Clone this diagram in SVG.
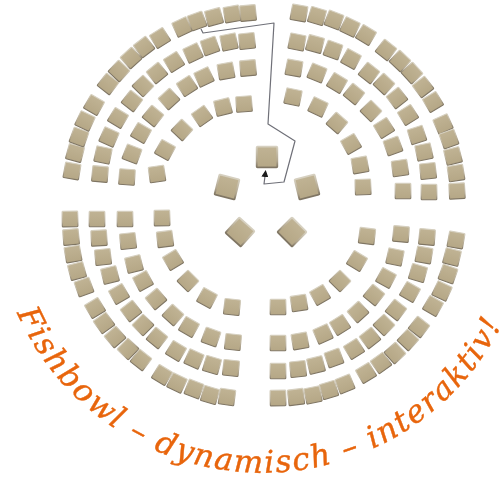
<svg xmlns="http://www.w3.org/2000/svg" xmlns:xlink="http://www.w3.org/1999/xlink" width="502" height="478" viewBox="0 0 502 478">
<style>
.line{fill:none;stroke:#6f7078;stroke-width:1.2;stroke-linejoin:round}
.title{font-family:"DejaVu Serif","Liberation Serif",serif;font-style:italic;font-size:31px;fill:#e8650c;stroke:#e8650c;stroke-width:0.4}
</style>
<defs>
<linearGradient id="f" x1="0" y1="0" x2="0" y2="1"><stop offset="0" stop-color="#c0b394"/><stop offset="1" stop-color="#b5a786"/></linearGradient>
<linearGradient id="e" x1="0" y1="0" x2="0" y2="1"><stop offset="0" stop-color="#d6d0c0"/><stop offset="0.7" stop-color="#b0a58e"/><stop offset="1" stop-color="#7f7563"/></linearGradient>
<filter id="b" x="-2%" y="-2%" width="104%" height="104%"><feGaussianBlur stdDeviation="0.4"/></filter>
<g id="c"><rect x="-7.8" y="-7.8" width="15.6" height="15.6" rx="0.8" fill="url(#f)" stroke="url(#e)" stroke-width="1.1"/></g>
<g id="k"><rect x="-10.3" y="-10.3" width="20.6" height="20.6" rx="0.8" fill="url(#f)" stroke="url(#e)" stroke-width="1.8"/></g>
<marker id="a" markerWidth="7" markerHeight="7" refX="1" refY="3.5" orient="auto" markerUnits="userSpaceOnUse"><path d="M0,0L7,3.5L0,7Z" fill="#1a1a1a"/></marker>
</defs>
<g filter="url(#b)">
<g id="seats-upper-left">
<use href="#c" transform="translate(72 171) rotate(10)"/><use href="#c" transform="translate(75 153) rotate(15)"/><use href="#c" transform="translate(79 137) rotate(20)"/><use href="#c" transform="translate(85 121) rotate(25)"/><use href="#c" transform="translate(94 105) rotate(30)"/>
<use href="#c" transform="translate(108 84) rotate(38)"/><use href="#c" transform="translate(119 71) rotate(43)"/><use href="#c" transform="translate(131 58) rotate(-42)"/><use href="#c" transform="translate(144 47) rotate(-37)"/><use href="#c" transform="translate(160 38) rotate(-32)"/>
<use href="#c" transform="translate(182 27) rotate(-25)"/><use href="#c" transform="translate(197 21) rotate(-20)"/><use href="#c" transform="translate(214 17) rotate(-15)"/><use href="#c" transform="translate(232 14) rotate(-10)"/><use href="#c" transform="translate(248 13) rotate(-5)"/>
<use href="#c" transform="translate(100 174) rotate(5)"/><use href="#c" transform="translate(103 155) rotate(12)"/><use href="#c" transform="translate(109 137) rotate(24)"/><use href="#c" transform="translate(118 118) rotate(31)"/><use href="#c" transform="translate(132 101) rotate(38)"/><use href="#c" transform="translate(143 86) rotate(45)"/><use href="#c" transform="translate(157 73) rotate(-39)"/><use href="#c" transform="translate(174 62) rotate(-32)"/><use href="#c" transform="translate(193 53) rotate(-25)"/><use href="#c" transform="translate(210 46) rotate(-19)"/><use href="#c" transform="translate(229 42) rotate(-12)"/><use href="#c" transform="translate(247 41) rotate(-6)"/>
<use href="#c" transform="translate(127 177) rotate(4)"/><use href="#c" transform="translate(132 154) rotate(21)"/><use href="#c" transform="translate(141 133) rotate(30)"/><use href="#c" transform="translate(153 116) rotate(39)"/><use href="#c" transform="translate(169 99) rotate(-42)"/><use href="#c" transform="translate(187 86) rotate(-33)"/><use href="#c" transform="translate(204 77) rotate(-25)"/><use href="#c" transform="translate(226 71) rotate(-10)"/><use href="#c" transform="translate(248 68) rotate(-5)"/>
<use href="#c" transform="translate(157 174) rotate(-8)"/><use href="#c" transform="translate(165 150) rotate(29)"/><use href="#c" transform="translate(182 130) rotate(43)"/><use href="#c" transform="translate(202 116) rotate(-35)"/><use href="#c" transform="translate(223 107) rotate(-14)"/><use href="#c" transform="translate(244 104) rotate(-4)"/>
</g>
<g id="seats-upper-right">
<use href="#c" transform="translate(299 13) rotate(10)"/><use href="#c" transform="translate(317 16) rotate(16)"/><use href="#c" transform="translate(334 20) rotate(21)"/><use href="#c" transform="translate(350 27) rotate(26)"/><use href="#c" transform="translate(366 35) rotate(31)"/>
<use href="#c" transform="translate(386 50) rotate(38)"/><use href="#c" transform="translate(400 61) rotate(43)"/><use href="#c" transform="translate(412 73) rotate(48)"/><use href="#c" transform="translate(423 87) rotate(-37)"/><use href="#c" transform="translate(433 102) rotate(-31)"/>
<use href="#c" transform="translate(443 124) rotate(-24)"/><use href="#c" transform="translate(449 139) rotate(-20)"/><use href="#c" transform="translate(453 156) rotate(-14)"/><use href="#c" transform="translate(456 173) rotate(-9)"/><use href="#c" transform="translate(457 191) rotate(-3)"/>
<use href="#c" transform="translate(297 42) rotate(11)"/><use href="#c" transform="translate(315 44) rotate(15)"/><use href="#c" transform="translate(333 50) rotate(20)"/><use href="#c" transform="translate(351 59) rotate(28)"/><use href="#c" transform="translate(369 73) rotate(38)"/><use href="#c" transform="translate(384 84) rotate(43)"/><use href="#c" transform="translate(397 98) rotate(-38)"/><use href="#c" transform="translate(408 115) rotate(-32)"/><use href="#c" transform="translate(417 135) rotate(-18)"/><use href="#c" transform="translate(424 152) rotate(-12)"/><use href="#c" transform="translate(428 171) rotate(-6)"/><use href="#c" transform="translate(429 192) rotate(0)"/>
<use href="#c" transform="translate(294 68) rotate(10)"/><use href="#c" transform="translate(317 73) rotate(22)"/><use href="#c" transform="translate(337 83) rotate(31)"/><use href="#c" transform="translate(354 94) rotate(39)"/><use href="#c" transform="translate(371 111) rotate(45)"/><use href="#c" transform="translate(384 128) rotate(-32)"/><use href="#c" transform="translate(393 146) rotate(-20)"/><use href="#c" transform="translate(400 168) rotate(-8)"/><use href="#c" transform="translate(403 191) rotate(0)"/>
<use href="#c" transform="translate(293 97) rotate(12)"/><use href="#c" transform="translate(318 107) rotate(25)"/><use href="#c" transform="translate(337 123) rotate(41)"/><use href="#c" transform="translate(351 144) rotate(-30)"/><use href="#c" transform="translate(360 165) rotate(-10)"/><use href="#c" transform="translate(363 187) rotate(-2)"/>
</g>
<g id="seats-lower-left">
<use href="#c" transform="translate(70 219) rotate(-1)"/><use href="#c" transform="translate(71 237) rotate(-5)"/><use href="#c" transform="translate(73 254) rotate(-10)"/><use href="#c" transform="translate(77 271) rotate(-15)"/><use href="#c" transform="translate(84 287) rotate(-20)"/>
<use href="#c" transform="translate(95 308) rotate(-31)"/><use href="#c" transform="translate(104 323) rotate(-36)"/><use href="#c" transform="translate(115 337) rotate(-41)"/><use href="#c" transform="translate(128 349) rotate(-46)"/><use href="#c" transform="translate(141 360) rotate(38)"/>
<use href="#c" transform="translate(162 375) rotate(31)"/><use href="#c" transform="translate(177 383) rotate(26)"/><use href="#c" transform="translate(194 389) rotate(21)"/><use href="#c" transform="translate(210 395) rotate(16)"/><use href="#c" transform="translate(227 397) rotate(8)"/>
<use href="#c" transform="translate(97 219) rotate(0)"/><use href="#c" transform="translate(99 238) rotate(-3)"/><use href="#c" transform="translate(103 257) rotate(-6)"/><use href="#c" transform="translate(110 275) rotate(-14)"/><use href="#c" transform="translate(119 294) rotate(-30)"/><use href="#c" transform="translate(131 311) rotate(-38)"/><use href="#c" transform="translate(143 325) rotate(-45)"/><use href="#c" transform="translate(157 338) rotate(39)"/><use href="#c" transform="translate(176 351) rotate(31)"/><use href="#c" transform="translate(194 359) rotate(24)"/><use href="#c" transform="translate(212 365) rotate(16)"/><use href="#c" transform="translate(231 368) rotate(6)"/>
<use href="#c" transform="translate(125 219) rotate(0)"/><use href="#c" transform="translate(128 241) rotate(-6)"/><use href="#c" transform="translate(134 264) rotate(-14)"/><use href="#c" transform="translate(143 281) rotate(-28)"/><use href="#c" transform="translate(156 299) rotate(-40)"/><use href="#c" transform="translate(173 315) rotate(42)"/><use href="#c" transform="translate(189 327) rotate(30)"/><use href="#c" transform="translate(211 337) rotate(20)"/><use href="#c" transform="translate(233 342) rotate(6)"/>
<use href="#c" transform="translate(162 218) rotate(-1)"/><use href="#c" transform="translate(165 239) rotate(-7)"/><use href="#c" transform="translate(173 260) rotate(-31)"/><use href="#c" transform="translate(188 281) rotate(45)"/><use href="#c" transform="translate(207 298) rotate(28)"/><use href="#c" transform="translate(232 307) rotate(6)"/>
</g>
<g id="seats-lower-right">
<use href="#c" transform="translate(456 240) rotate(10)"/><use href="#c" transform="translate(452 257) rotate(14)"/><use href="#c" transform="translate(448 274) rotate(20)"/><use href="#c" transform="translate(442 291) rotate(25)"/><use href="#c" transform="translate(433 306) rotate(30)"/>
<use href="#c" transform="translate(419 327) rotate(38)"/><use href="#c" transform="translate(408 340) rotate(43)"/><use href="#c" transform="translate(395 353) rotate(48)"/><use href="#c" transform="translate(381 363) rotate(-36)"/><use href="#c" transform="translate(366 373) rotate(-31)"/>
<use href="#c" transform="translate(345 384) rotate(-22)"/><use href="#c" transform="translate(329 390) rotate(-17)"/><use href="#c" transform="translate(313 395) rotate(-12)"/><use href="#c" transform="translate(296 397) rotate(-7)"/><use href="#c" transform="translate(278 398) rotate(-1)"/>
<use href="#c" transform="translate(427 237) rotate(5)"/><use href="#c" transform="translate(424 255) rotate(10)"/><use href="#c" transform="translate(418 273) rotate(16)"/><use href="#c" transform="translate(410 292) rotate(30)"/><use href="#c" transform="translate(396 310) rotate(38)"/><use href="#c" transform="translate(384 325) rotate(45)"/><use href="#c" transform="translate(370 338) rotate(-38)"/><use href="#c" transform="translate(354 349) rotate(-32)"/><use href="#c" transform="translate(334 358) rotate(-20)"/><use href="#c" transform="translate(316 365) rotate(-14)"/><use href="#c" transform="translate(298 369) rotate(-6)"/><use href="#c" transform="translate(278 371) rotate(0)"/>
<use href="#c" transform="translate(401 234) rotate(5)"/><use href="#c" transform="translate(395 257) rotate(12)"/><use href="#c" transform="translate(386 278) rotate(28)"/><use href="#c" transform="translate(374 295) rotate(39)"/><use href="#c" transform="translate(358 312) rotate(-42)"/><use href="#c" transform="translate(340 325) rotate(-32)"/><use href="#c" transform="translate(323 334) rotate(-24)"/><use href="#c" transform="translate(300 341) rotate(-10)"/><use href="#c" transform="translate(278 343) rotate(0)"/>
<use href="#c" transform="translate(367 236) rotate(7)"/><use href="#c" transform="translate(357 261) rotate(31)"/><use href="#c" transform="translate(340 281) rotate(45)"/><use href="#c" transform="translate(320 295) rotate(-30)"/><use href="#c" transform="translate(299 303) rotate(-9)"/><use href="#c" transform="translate(278 307) rotate(0)"/>
</g>
<g id="centre-chairs">
<use id="chair-top" href="#k" transform="translate(267 157)"/>
<use id="chair-left" href="#k" transform="translate(227 187) rotate(14)"/>
<use id="chair-right" href="#k" transform="translate(307 187) rotate(-14)"/>
<use id="chair-lower-left" href="#k" transform="translate(240 232) rotate(42)"/>
<use id="chair-lower-right" href="#k" transform="translate(292 232) rotate(45)"/>
</g>
<g id="connectors">
<path class="line" d="M201,29L203,33L274,23L268,124L295,141L284,182L264,184L265,176" marker-end="url(#a)"/>
</g>
</g>
<defs><path id="arc" d="M17,313A268,268 0 0 0 521,274"/></defs>
<text class="title"><textPath href="#arc" xlink:href="#arc" textLength="606" lengthAdjust="spacing">Fishbowl – dynamisch – interaktiv!</textPath></text>
</svg>
